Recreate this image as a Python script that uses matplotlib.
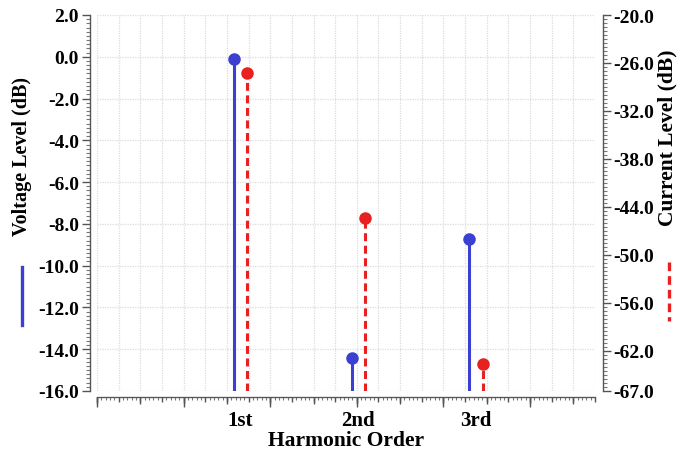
import matplotlib
matplotlib.use("Agg")
import matplotlib.pyplot as plt
from matplotlib.ticker import MultipleLocator, FixedLocator, FormatStrFormatter, NullFormatter
from matplotlib.lines import Line2D

# ---- data ----
categories = ["1st", "2nd", "3rd"]
voltage_db = [-0.1, -14.4, -8.7]
current_db = [-27.3, -45.4, -63.6]
voltage_ticks = [2.0, 0.0, -2.0, -4.0, -6.0, -8.0, -10.0, -12.0, -14.0, -16.0]
current_ticks = [-20.0, -26.0, -32.0, -38.0, -44.0, -50.0, -56.0, -62.0, -67.0]

# ---- layout / style ----
BLUE = "#3b40d0"
RED = "#e8201f"
FONT = "Liberation Serif"
x_first, x_step, x_off = 6.63, 5.44, 0.31
xlim = (0, 23)

W, H = 679, 456
fig = plt.figure(figsize=(W / 100, H / 100), dpi=100)
ax = fig.add_axes([97 / W, 1 - 392 / H, (595 - 97) / W, (392 - 16) / H])
ax.set_xlim(*xlim)
ax.set_ylim(voltage_ticks[-1], voltage_ticks[0])
ax2 = ax.twinx()
ax2.set_ylim(current_ticks[-1], current_ticks[0])

centers = [x_first + i * x_step for i in range(len(categories))]
xb = [c - x_off for c in centers]
xr = [c + x_off for c in centers]

# stems
ybot = voltage_ticks[-1]
for x, v in zip(xb, voltage_db):
    ax.plot([x, x], [ybot, v], color=BLUE, lw=2.2, solid_capstyle="butt", zorder=3)
ax.plot(xb, voltage_db, "o", color=BLUE, ms=8, zorder=4, clip_on=False)
cbot = current_ticks[-1]
for x, v in zip(xr, current_db):
    ax2.plot([x, x], [cbot, v], color=RED, lw=2.2, ls=(0, (2.6, 1.5)), zorder=3)
ax2.plot(xr, current_db, "o", color=RED, ms=8, zorder=4, clip_on=False)

# grid
grid_kw = dict(color="#dcdcdc", lw=0.9, ls=(0, (1, 1)))
ax.set_yticks(voltage_ticks)
ax.yaxis.set_major_formatter(FormatStrFormatter("%.1f"))
ax.yaxis.set_minor_locator(MultipleLocator(0.2))
ax.grid(True, axis="y", which="major", **grid_kw)
ax.xaxis.set_minor_locator(MultipleLocator(1))
ax.grid(True, axis="x", which="minor", **grid_kw)
ax.set_axisbelow(True)

# spines
for s in ["top", "right"]:
    ax.spines[s].set_visible(False)
for s in ["top", "left", "bottom"]:
    ax2.spines[s].set_visible(False)
ax.spines["left"].set_position(("outward", 5))
ax.spines["bottom"].set_visible(False)
ax2.spines["right"].set_position(("outward", 5.5))
for sp in [ax.spines["left"], ax2.spines["right"]]:
    sp.set_color("#555555")
    sp.set_linewidth(1.0)

tick_font = dict(family=FONT, weight="bold", size=14)
ax.tick_params(axis="y", which="major", length=6, width=1, color="#555555", pad=2)
ax.tick_params(axis="y", which="minor", length=3, width=0.8, color="#777777")
for lbl in ax.get_yticklabels():
    lbl.set(**tick_font)

ax2.set_yticks(current_ticks)
ax2.yaxis.set_major_formatter(FormatStrFormatter("%.1f"))
ax2.yaxis.set_minor_locator(MultipleLocator(0.5))
ax2.tick_params(axis="y", which="major", length=6, width=1, color="#555555", pad=2)
ax2.tick_params(axis="y", which="minor", length=3, width=0.8, color="#777777")
for lbl in ax2.get_yticklabels():
    lbl.set(**tick_font)

# category labels on main x axis
ax.set_xticks(centers)
ax.set_xticklabels(categories, family=FONT, weight="bold", size=15)
ax.tick_params(axis="x", which="both", length=0, pad=14)

# ruler on bottom (offset axis)
off = -6 / 376
for major, length, minor in [(4, 7, 0.2), (2, 5, None), (1, 3.5, None)]:
    sec = ax.secondary_xaxis(off)
    sec.xaxis.set_major_locator(MultipleLocator(major))
    sec.xaxis.set_major_formatter(NullFormatter())
    if minor:
        sec.xaxis.set_minor_locator(MultipleLocator(minor))
    else:
        sec.xaxis.set_minor_locator(FixedLocator([]))
    sec.tick_params(axis="x", which="major", length=length, width=1, color="#555555")
    sec.tick_params(axis="x", which="minor", length=2.2, width=0.8, color="#777777")
    sec.spines["bottom"].set_color("#555555")

ax.set_xlabel("Harmonic Order", family=FONT, weight="bold", size=15.5, labelpad=0)

# y labels with legend lines
fig.text(22 / W, 1 - 157 / H, "Voltage Level (dB)", rotation=90, ha="center", va="center",
         family=FONT, weight="bold", size=14.5)
fig.add_artist(Line2D([22 / W, 22 / W], [1 - 268 / H, 1 - 326 / H], color=BLUE, lw=2.4,
                      transform=fig.transFigure))
fig.text(667 / W, 1 - 138 / H, "Current Level (dB)", rotation=90, ha="center", va="center",
         family=FONT, weight="bold", size=15.5)
fig.add_artist(Line2D([669 / W, 669 / W], [1 - 263 / H, 1 - 322 / H], color=RED, lw=2.4,
                      ls=(0, (2.6, 1.5)), transform=fig.transFigure))

fig.savefig("out.png", dpi=100)
